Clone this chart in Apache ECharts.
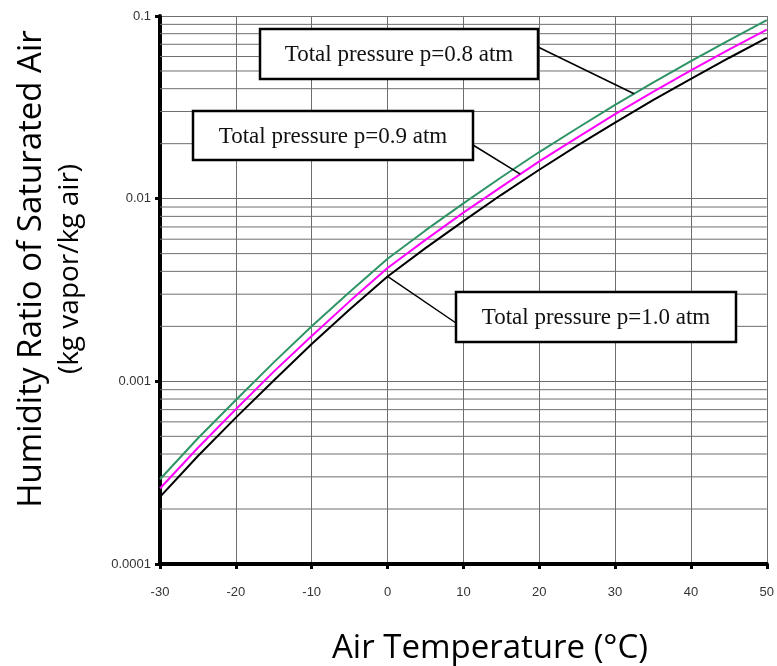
<!DOCTYPE html>
<html>
<head>
<meta charset="utf-8">
<script src="https://cdn.jsdelivr.net/npm/echarts@6/dist/echarts.min.js"></script>
<style>
  html, body { margin: 0; padding: 0; background: #fff; }
  #chart { width: 777px; height: 666px; }
</style>
</head>
<body>
<div id="chart"></div>
<script>
// Saturation humidity ratio (kg vapor / kg air) vs air temperature
const temperatures = [-30, -25, -20, -15, -10, -5, 0, 5, 10, 15, 20, 25, 30, 35, 40, 45, 50];
const ratioP08 = [0.000291, 0.000488, 0.000791, 0.00127, 0.00200, 0.00308, 0.00469, 0.00670, 0.00942, 0.0131, 0.0180, 0.0243, 0.0326, 0.0432, 0.0567, 0.0736, 0.0948];
const ratioP09 = [0.000259, 0.000433, 0.000703, 0.00113, 0.00177, 0.00274, 0.00417, 0.00595, 0.00838, 0.0116, 0.0160, 0.0216, 0.0290, 0.0384, 0.0504, 0.0654, 0.0842];
const ratioP10 = [0.000233, 0.000390, 0.000633, 0.00101, 0.00160, 0.00247, 0.00375, 0.00536, 0.00754, 0.0105, 0.0144, 0.0195, 0.0261, 0.0346, 0.0453, 0.0589, 0.0758];
const yTickLabels = ['0.0001', '0.001', '0.01', '0.1'];
const xTickLabels = ['-30', '-20', '-10', '0', '10', '20', '30', '40', '50'];
const seriesNames = ['Total pressure p=0.8 atm', 'Total pressure p=0.9 atm', 'Total pressure p=1.0 atm'];

const GRID_COLOR = '#6e6e6e';
const X_MIN = -30, X_MAX = 50;
const chart = echarts.init(document.getElementById('chart'), null, { renderer: 'canvas' });

const pairs = arr => temperatures.map((t, i) => [t, arr[i]]);
const curve = (name, arr, color) => ({
  name, type: 'line', data: pairs(arr), showSymbol: false, symbol: 'none',
  lineStyle: { color, width: 2 }, z: 3, silent: true
});

// horizontal rules at 2..9 within each decade of the log axis
const minorGridSeries = [];
for (let d = -4; d <= -2; d++) {
  for (let m = 2; m <= 9; m++) {
    const v = m * Math.pow(10, d);
    minorGridSeries.push({
      name: 'rule ' + v, type: 'line', data: [[X_MIN, v], [X_MAX, v]],
      showSymbol: false, symbol: 'none', silent: true, z: 1,
      lineStyle: { color: GRID_COLOR, width: 1 }
    });
  }
}

chart.setOption({
  animation: false,
  grid: { left: 160, right: 9, top: 16, bottom: 102, containLabel: false },
  xAxis: {
    type: 'value', min: X_MIN, max: X_MAX, interval: 10,
    axisLine: { show: true, onZero: false, lineStyle: { color: '#000', width: 4 } },
    axisTick: { show: true, length: 5, lineStyle: { color: '#000', width: 3 } },
    axisLabel: {
      margin: 22, color: '#333', fontFamily: 'Liberation Sans', fontSize: 13,
      formatter: v => xTickLabels[Math.round((v - X_MIN) / 10)]
    },
    splitLine: { show: true, lineStyle: { color: GRID_COLOR, width: 1 } }
  },
  yAxis: {
    type: 'log', logBase: 10, min: 0.0001, max: 0.1,
    axisLine: { show: true, onZero: false, lineStyle: { color: '#000', width: 4 } },
    axisTick: { show: true, length: 5, lineStyle: { color: '#000', width: 3 } },
    axisLabel: {
      margin: 9, color: '#333', fontFamily: 'Liberation Sans', fontSize: 13,
      formatter: v => yTickLabels[Math.round(Math.log10(v)) + 4]
    },
    splitLine: { show: true, lineStyle: { color: GRID_COLOR, width: 1 } }
  },
  series: [
    ...minorGridSeries,
    curve(seriesNames[2], ratioP10, '#000000'),
    curve(seriesNames[1], ratioP09, '#ff00ff'),
    curve(seriesNames[0], ratioP08, '#2e9466')
  ]
});

// value on a curve at temperature t, interpolated along the log axis
function onCurve(arr, t) {
  for (let i = 0; i < temperatures.length - 1; i++) {
    const t0 = temperatures[i], t1 = temperatures[i + 1];
    if (t >= t0 && t <= t1) {
      const f = (t - t0) / (t1 - t0);
      return Math.pow(10, Math.log10(arr[i]) * (1 - f) + Math.log10(arr[i + 1]) * f);
    }
  }
  return arr[arr.length - 1];
}
const toPx = (arr, t) => chart.convertToPixel({ xAxisIndex: 0, yAxisIndex: 0 }, [t, onCurve(arr, t)]);

const callouts = [
  { text: seriesNames[0], box: [260, 29, 278, 50], from: [538, 47], arr: ratioP08, t: 32.5 },
  { text: seriesNames[1], box: [193, 111, 280, 49], from: [473, 145], arr: ratioP09, t: 17.5 },
  { text: seriesNames[2], box: [456, 292, 280, 50], from: [456, 323], arr: ratioP10, t: 0 }
];

const graphics = [];
callouts.forEach(c => {
  const p = toPx(c.arr, c.t);
  graphics.push({
    type: 'line', z: 100, silent: true,
    shape: { x1: c.from[0], y1: c.from[1], x2: p[0], y2: p[1] },
    style: { stroke: '#000', lineWidth: 1.5 }
  });
  graphics.push({
    type: 'rect', z: 101, silent: true,
    shape: { x: c.box[0], y: c.box[1], width: c.box[2], height: c.box[3] },
    style: { fill: '#fff', stroke: '#000', lineWidth: 2.5 }
  });
  graphics.push({
    type: 'text', z: 102, silent: true,
    x: c.box[0] + c.box[2] / 2, y: c.box[1] + c.box[3] / 2 + 1,
    style: {
      text: c.text, font: '23px "Liberation Serif"', fill: '#111',
      align: 'center', verticalAlign: 'middle'
    }
  });
});

// axis titles
graphics.push({
  type: 'text', silent: true, x: 32, y: 269, rotation: Math.PI / 2,
  style: { text: 'Humidity Ratio of Saturated Air', font: '33px "Open Sans"', fill: '#000', align: 'center', verticalAlign: 'middle' }
});
graphics.push({
  type: 'text', silent: true, x: 70, y: 269, rotation: Math.PI / 2,
  style: { text: '(kg vapor/kg air)', font: '28px "Open Sans"', fill: '#000', align: 'center', verticalAlign: 'middle' }
});
graphics.push({
  type: 'text', silent: true, x: 490, y: 649,
  style: { text: 'Air Temperature (°C)', font: '33px "Open Sans"', fill: '#000', align: 'center', verticalAlign: 'middle' }
});

chart.setOption({ graphic: graphics });
</script>
</body>
</html>
